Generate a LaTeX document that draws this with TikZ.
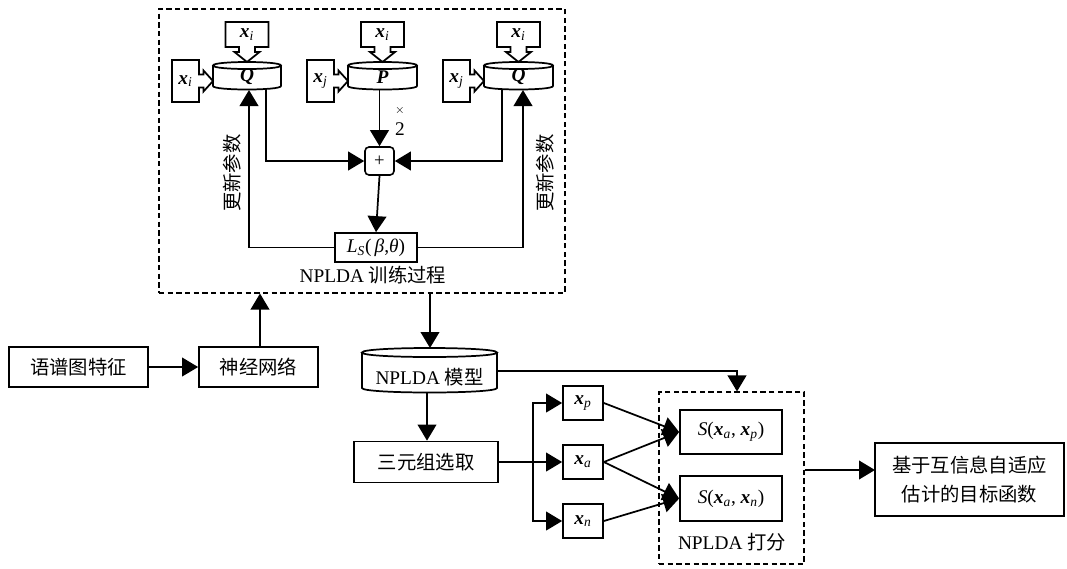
\documentclass[tikz,border=0pt]{standalone}
\usepackage{fontspec}
\setmainfont{Liberation Serif}
\newfontfamily\cjk{Noto Sans CJK SC}
\usetikzlibrary{arrows.meta,calc}
\def\pxu{0.75pt}
\newcommand\vx[1]{\textbf{\textit{x}}\textsubscript{\textit{#1}}}
% cylinder outline: x1,x2,ytop,yside,ry
\newcommand\cylshape[5]{%
  \draw[line width=1.3pt,fill=white] (#1,#3+#5) .. controls (#1,#3+#5-1.333*#5) and (#2,#3+#5-1.333*#5) .. (#2,#3+#5) .. controls (#2,#3+#5+1.333*#5) and (#1,#3+#5+1.333*#5) .. cycle;
  \draw[line width=1.3pt] (#1,#3+#5) -- (#1,#4) .. controls (#1,#4+1.333*#5) and (#2,#4+1.333*#5) .. (#2,#4) -- (#2,#3+#5);
}
% down callout: name, cx, text
\newcommand\cdown[3]{%
  \draw[line width=1.3pt,line join=miter] (#2-21.5,22) -- (#2+21.5,22) -- (#2+21.5,47) -- (#2+8,47) -- (#2+8,52) -- (#2+12.5,52) -- (#2,62) -- (#2-12.5,52) -- (#2-8,52) -- (#2-8,47) -- (#2-21.5,47) -- cycle;
  \node[cot] (#1) at (#2,34.5) {#3};
}
% right callout: name, L (cylinder left), text
\newcommand\cright[3]{%
  \draw[line width=1.3pt,line join=miter] (#2-41,60) -- (#2-14,60) -- (#2-14,74.5) -- (#2-9.5,74.5) -- (#2-9.5,70.5) -- (#2,81) -- (#2-9.5,91.5) -- (#2-9.5,87.5) -- (#2-14,87.5) -- (#2-14,102) -- (#2-41,102) -- cycle;
  \node[cot] (#1) at (#2-27.5,81) {#3};
}
\begin{document}
\begin{tikzpicture}[x=0.75pt,y=-0.75pt,
  box/.style={draw,line width=1.3pt,inner sep=0pt,font=\fontsize{14.5}{17}\selectfont,align=center},
  cbox/.style={box,font=\cjk\fontsize{14.5}{22}\selectfont},
  dbox/.style={draw,line width=0.8pt,dash pattern=on 4pt off 2.5pt,inner sep=0pt},
  arr/.style={line width=1.3pt,-{Triangle[length=12pt,width=14pt]}},
  ln/.style={line width=1.3pt},
  lbl/.style={font=\fontsize{14.5}{17}\selectfont,inner sep=0pt},
  clbl/.style={font=\cjk\fontsize{14.5}{17}\selectfont,inner sep=0pt},
  cot/.style={font=\fontsize{14.5}{16}\selectfont,inner sep=0pt},
  cyt/.style={inner sep=0pt,font=\fontsize{14.5}{17}\selectfont},
]
\useasboundingbox (0,0) rectangle (1067,568);

% ---------- training box ----------
\node[dbox,minimum width=406*\pxu,minimum height=284*\pxu] (train) at (362,151) {};
\node[lbl] (trainlbl) at (373,275) {NPLDA {\cjk 训练过程}};

% cylinders
\cylshape{213}{281}{62}{86}{3.5}
\node[cyt] (q1) at (247,77) {\textbf{\textit{Q}}};
\cylshape{348}{417}{62}{86}{3.5}
\node[cyt] (p) at (382.5,77) {\textbf{\textit{P}}};
\cylshape{484}{553}{62}{86}{3.5}
\node[cyt] (q2) at (518.5,77) {\textbf{\textit{Q}}};

% callouts
\cdown{c1}{247}{\vx{i}}
\cdown{c2}{382.5}{\vx{i}}
\cdown{c3}{518.5}{\vx{i}}
\cright{c4}{213}{\vx{i}}
\cright{c5}{348}{\vx{j}}
\cright{c6}{484}{\vx{j}}

% plus and loss
\node[draw,line width=1.2pt,rounded corners=3pt,minimum width=29*\pxu,minimum height=28*\pxu,inner sep=0pt,font=\fontsize{14}{16}\selectfont] (plus) at (379.5,161) {+};
\node[box,minimum width=82*\pxu,minimum height=29*\pxu] (Ls) at (376,247.5) {\textit{L}\textsubscript{\textit{S}}(\,\textit{β},\textit{θ})};

\coordinate (q1o) at (266,89.5);
\coordinate (q1i) at (249,90);
\coordinate (po) at (379.5,90);
\coordinate (q2o) at (502,89.5);
\coordinate (q2i) at (523,90);
\draw[arr] (q1o) |- (plus.west);
\draw[arr] (po) -- (plus.north);
\draw[arr] (q2o) |- (plus.east);
\draw[arr] (plus.south) -- (Ls.north);
\draw[arr] (Ls.west) -| (q1i);
\draw[arr] (Ls.east) -| (q2i);

\node[font=\fontsize{9}{10}\selectfont,inner sep=0pt] (times) at (400,110) {$\times$};
\node[lbl] (two) at (400,129) {2};
\node[clbl,rotate=90] (upd1) at (232,173) {更新参数};
\node[clbl,rotate=90] (upd2) at (545,173) {更新参数};

% ---------- bottom left ----------
\node[cbox,minimum width=139*\pxu,minimum height=40*\pxu] (spec) at (78.5,367) {语谱图特征};
\node[cbox,minimum width=119*\pxu,minimum height=40*\pxu] (nn) at (258.5,367) {神经网络};
\draw[arr] (spec) -- (nn);
\coordinate (nnup) at (260,347);
\draw[arr] (nnup) -- (nnup |- train.south);

% model cylinder
\cylshape{362}{497}{348}{388}{4.5}
\node[cyt] (model) at (429.5,377) {NPLDA {\cjk 模型}};
\coordinate (mtop) at (430,348);
\draw[arr] (mtop |- train.south) -- (mtop);

\node[cbox,minimum width=144*\pxu,minimum height=41*\pxu] (tri) at (426,462) {三元组选取};
\coordinate (mbot) at (427,392.5);
\draw[arr] (mbot) -- (mbot |- tri.north);

% scoring box
\node[dbox,minimum width=145*\pxu,minimum height=172*\pxu] (score) at (731.5,478) {};
\node[lbl] (scorelbl) at (732,542) {NPLDA {\cjk 打分}};
\coordinate (mr) at (497,371);
\coordinate (sin) at (737,371);
\draw[arr] (mr) -- (sin) -- (sin |- score.north);

% triplet
\node[box,minimum width=40*\pxu,minimum height=34*\pxu] (xp) at (583,403) {\vx{p}};
\node[box,minimum width=40*\pxu,minimum height=34*\pxu] (xa) at (583,462) {\vx{a}};
\node[box,minimum width=40*\pxu,minimum height=34*\pxu] (xn) at (583,521) {\vx{n}};
\coordinate (br) at (533,462);
\draw[ln] (tri.east) -- (br);
\draw[arr] (br) |- (xp.west);
\draw[arr] (br) -- (xa.west);
\draw[arr] (br) |- (xn.west);

\node[box,minimum width=102*\pxu,minimum height=44*\pxu] (s1) at (731,432) {{\itshape S}(\vx{a}, \vx{p})};
\node[box,minimum width=102*\pxu,minimum height=45*\pxu] (s2) at (731,498.5) {{\itshape S}(\vx{a}, \vx{n})};
\draw[arr] (xp.east) -- (s1.west);
\draw[arr] (xa.east) -- (s1.west);
\draw[arr] (xa.east) -- (s2.west);
\draw[arr] (xn.east) -- (s2.west);

% target
\node[cbox,minimum width=189*\pxu,minimum height=73*\pxu] (tgt) at (969.5,479.5) {基于互信息自适应\\估计的目标函数};
\coordinate (tin) at (875,470);
\draw[arr] (score.east |- tin) -- (tin);
\end{tikzpicture}
\end{document}
